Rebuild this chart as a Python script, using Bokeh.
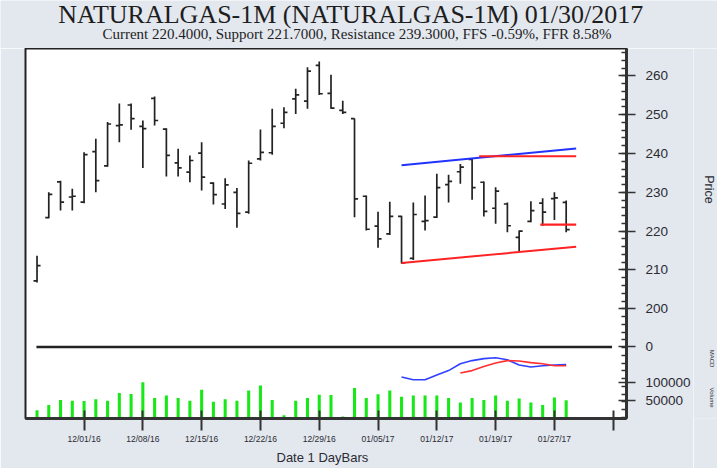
import math
from bokeh.plotting import figure
from bokeh.models import Range1d, FixedTicker, Label
from bokeh.layouts import column, row
from bokeh.embed import file_html
from bokeh.resources import INLINE

# ---------------- data ----------------
dates = ["11/25/16", "11/28/16", "11/29/16", "11/30/16", "12/01/16", "12/02/16",
         "12/05/16", "12/06/16", "12/07/16", "12/08/16", "12/09/16", "12/12/16",
         "12/13/16", "12/14/16", "12/15/16", "12/16/16", "12/19/16", "12/20/16",
         "12/21/16", "12/22/16", "12/23/16", "12/26/16", "12/27/16", "12/28/16",
         "12/29/16", "12/30/16", "01/02/17", "01/03/17", "01/04/17", "01/05/17",
         "01/06/17", "01/09/17", "01/10/17", "01/11/17", "01/12/17", "01/13/17",
         "01/16/17", "01/17/17", "01/18/17", "01/19/17", "01/20/17", "01/23/17",
         "01/24/17", "01/25/17", "01/27/17", "01/30/17"]

opens = [207.2, 223.5, 232.7, 228.8, 227.5, 240.5, 236.8, 247.2, 252.5, 247.0,
         254.2, 246.3, 237.6, 235.2, 240.1, 232.4, 227.0, 230.0, 224.9, 238.6,
         240.2, 247.8, 254.1, 253.5, 262.7, 255.5, 251.1, 249.0, 229.0, 221.3,
         219.3, 223.8, 213.0, 222.5, 223.6, 232.0, 235.3, 238.5, 232.6, 225.9,
         227.0, 218.4, 222.5, 227.2, 228.4, 227.4]
highs = [213.7, 230.0, 233.0, 230.9, 240.3, 243.8, 248.1, 252.9, 252.9, 248.5,
         254.7, 246.5, 241.2, 239.5, 242.9, 232.6, 233.6, 231.1, 238.2, 246.2,
         251.5, 251.9, 256.7, 262.2, 263.7, 260.3, 253.6, 249.0, 229.2, 225.0,
         227.6, 224.0, 227.4, 229.2, 234.8, 234.5, 237.3, 238.8, 232.8, 231.3,
         227.4, 220.2, 227.7, 228.5, 230.0, 227.9]
lows = [206.8, 223.3, 225.3, 225.3, 227.2, 230.0, 236.6, 242.9, 246.1, 236.3,
        247.2, 234.1, 234.1, 232.6, 230.5, 226.9, 225.7, 220.9, 224.5, 238.2,
        239.7, 246.5, 250.2, 251.5, 255.1, 251.5, 250.2, 223.6, 220.2, 215.7,
        219.0, 211.7, 212.6, 220.2, 223.4, 227.4, 232.2, 228.1, 223.8, 221.9,
        219.7, 214.6, 222.3, 221.4, 222.9, 219.7]
closes = [211.1, 229.5, 227.5, 229.0, 239.7, 233.0, 247.6, 247.4, 249.0, 246.4,
          248.5, 239.5, 236.3, 238.2, 233.9, 229.4, 231.9, 224.6, 237.5, 240.3,
          247.0, 250.6, 255.1, 261.2, 255.4, 251.7, 250.6, 228.3, 220.5, 218.0,
          223.8, 211.8, 224.3, 222.7, 231.2, 232.8, 236.5, 231.2, 225.1, 230.3,
          221.4, 220.0, 225.3, 224.9, 228.6, 220.4]
volumes = [21000, 36000, 50000, 48000, 47000, 52000, 48000, 70000, 67000, 100000,
           56000, 63000, 56000, 48000, 79000, 45000, 52000, 48000, 77000, 91000,
           50000, 7000, 48000, 56000, 65000, 64000, 4000, 84000, 56000, 66000,
           77000, 59000, 63000, 63000, 63000, 56000, 43000, 56000, 50000, 63000,
           48000, 54000, 43000, 36000, 57000, 49000]

macd_idx = list(range(31, 46))
macd_line = [-7.5, -8.2, -8.2, -7.0, -5.9, -4.2, -3.4, -2.9, -2.7, -3.2,
             -4.5, -5.0, -4.7, -4.5, -4.4]
signal_idx = list(range(36, 46))
macd_signal = [-6.5, -5.9, -4.9, -4.0, -3.4, -3.5, -3.9, -4.2, -4.7, -4.7]

upper_trend_x = [31, 45.85]
upper_trend_y = [237.0, 241.3]
lower_trend_x = [31, 45.85]
lower_trend_y = [211.8, 216.0]
resistance_x = [37.6, 45.85]
resistance_y = [239.3, 239.3]
support_x = [42.8, 45.85]
support_y = [221.7, 221.7]

price_ticks = [200, 210, 220, 230, 240, 250, 260]
macd_ticks = [0]
volume_ticks = [50000, 100000]
date_tick_idx = [4, 9, 14, 19, 24, 29, 34, 39, 44, 49]

title_text = "NATURALGAS-1M (NATURALGAS-1M)  01/30/2017"
subtitle_text = ("Current 220.4000, Support 221.7000, Resistance 239.3000, "
                 "FFS -0.59%, FFR 8.58%")
side_texts = ["Price", "MACD", "Volume"]

# ---------------- layout constants ----------------
P0, P1 = 171.75, 267.05
M0, M1 = -17.875, 74.625
V0, V1 = -1960.0, 1038000.0

BG = "#e3e7ee"
INK = "#2b2b33"
TOTAL_W = 717
TOP_H = 48
FRAME_L, FRAME_W, FRAME_H = 25, 601, 370
MAIN_W = 690
SIDE_W = TOTAL_W - MAIN_W
BOTTOM_H = 468 - TOP_H - FRAME_H


def strip(w, h, x_end, y_end, **kw):
    f = figure(frame_width=w, frame_height=h, x_range=Range1d(0, x_end),
               y_range=Range1d(0, y_end), x_axis_type=None, y_axis_type=None,
               output_backend="svg", toolbar_location=None, min_border=0,
               background_fill_color=BG, border_fill_color=BG,
               outline_line_color=None, **kw)
    f.title.visible = False
    f.grid.visible = False
    return f


# ---------------- title strip ----------------
top = strip(TOTAL_W, TOP_H, TOTAL_W, TOP_H)
top.add_layout(Label(x=353.5, y=TOP_H - 13.5, text=title_text,
                     text_font="Liberation Serif", text_font_size="26px",
                     text_color="#1e1e1e", text_align="center",
                     text_baseline="middle"))
top.add_layout(Label(x=356.5, y=TOP_H - 33.5, text=subtitle_text,
                     text_font="Liberation Serif", text_font_size="15px",
                     text_color="#1e1e1e", text_align="center",
                     text_baseline="middle"))

# ---------------- main chart ----------------
p = figure(frame_width=FRAME_W, frame_height=FRAME_H,
           x_range=Range1d(-0.98, 50.13), y_range=Range1d(P0, P1),
           y_axis_location="right", output_backend="svg", toolbar_location=None,
           min_border_left=FRAME_L, min_border_right=MAIN_W - FRAME_L - FRAME_W,
           min_border_top=0, min_border_bottom=BOTTOM_H,
           background_fill_color="white", border_fill_color=BG,
           outline_line_color="#222", outline_line_width=2)
p.title.visible = False
p.extra_y_ranges = {"macd": Range1d(M0, M1), "vol": Range1d(V0, V1)}
p.xgrid.visible = False
p.ygrid.visible = False

idx = list(range(len(opens)))
TW = 0.3

# volume
p.vbar(x=idx, top=volumes, bottom=0, width=0.26, y_range_name="vol",
       fill_color="#18e818", line_color=None)

# MACD
p.line(x=[-0.05, 48.9], y=[0, 0], y_range_name="macd", line_color="#222",
       line_width=2.5)
p.line(x=macd_idx, y=macd_line, y_range_name="macd", line_color="#3040ff",
       line_width=1.6)
p.line(x=signal_idx, y=macd_signal, y_range_name="macd", line_color="#ff3030",
       line_width=1.6)

# OHLC bars
p.segment(x0=idx, y0=lows, x1=idx, y1=highs, line_color="#222", line_width=1.7)
p.segment(x0=[i - TW for i in idx], y0=opens, x1=idx, y1=opens,
          line_color="#222", line_width=1.7)
p.segment(x0=idx, y0=closes, x1=[i + TW for i in idx], y1=closes,
          line_color="#222", line_width=1.7)

# trend / S-R lines
p.line(x=upper_trend_x, y=upper_trend_y, line_color="#2233ff", line_width=2)
p.line(x=resistance_x, y=resistance_y, line_color="#ff2222", line_width=2.2)
p.line(x=support_x, y=support_y, line_color="#ff2222", line_width=2.2)
p.line(x=lower_trend_x, y=lower_trend_y, line_color="#ff2222", line_width=2)


def to_price(v, r0, r1):
    return round(P0 + (v - r0) / (r1 - r0) * (P1 - P0), 4)


ticks = [float(t) for t in price_ticks]
labels = {float(t): str(t) for t in price_ticks}
for t in macd_ticks:
    pos = to_price(t, M0, M1)
    ticks.append(pos)
    labels[pos] = str(t)
for t in volume_ticks:
    pos = to_price(t, V0, V1)
    ticks.append(pos)
    labels[pos] = str(t)
minor = [172 + 2 * k for k in range(48)]

ya = p.yaxis[0]
ya.ticker = FixedTicker(ticks=ticks, minor_ticks=minor)
ya.major_label_overrides = labels
ya.axis_line_color = "#333"
ya.axis_line_width = 3
ya.major_tick_in = 8
ya.major_tick_out = 9
ya.minor_tick_in = 5
ya.minor_tick_out = 0
ya.major_tick_line_color = "#333"
ya.minor_tick_line_color = "#333"
ya.major_tick_line_width = 1.5
ya.minor_tick_line_width = 1.5
ya.major_label_text_font = "Liberation Sans"
ya.major_label_text_font_size = "13.5px"
ya.major_label_text_color = INK
ya.major_label_standoff = 10

xa = p.xaxis[0]
xa.ticker = FixedTicker(ticks=date_tick_idx, minor_ticks=[])
xa.major_label_overrides = {i: (dates[i] if i < len(dates) else "")
                            for i in date_tick_idx}
xa.axis_line_color = "#333"
xa.axis_line_width = 3
xa.major_tick_in = 8
xa.major_tick_out = 12
xa.major_tick_line_color = "#333"
xa.major_tick_line_width = 2
xa.minor_tick_line_color = None
xa.major_label_text_font = "Liberation Sans"
xa.major_label_text_font_size = "8.5px"
xa.major_label_text_color = INK
xa.major_label_standoff = 3
xa.axis_label = "Date  1  DayBars"
xa.axis_label_text_font = "Liberation Sans"
xa.axis_label_text_font_size = "13px"
xa.axis_label_text_font_style = "normal"
xa.axis_label_text_color = INK
xa.axis_label_standoff = 3

# ---------------- side strip (vertical captions) ----------------
side = strip(SIDE_W, FRAME_H, SIDE_W, FRAME_H, min_border_bottom=BOTTOM_H)
side.min_border_top = 0
for txt, cx, cy, fs in zip(side_texts, [705, 708, 708], [189, 358, 397],
                           ["12.5px", "6px", "6px"]):
    side.add_layout(Label(x=cx - MAIN_W, y=FRAME_H - (cy - TOP_H), text=txt,
                          text_font="Liberation Sans", text_font_size=fs,
                          text_color=INK, angle=-math.pi / 2,
                          text_align="center", text_baseline="middle"))

layout = column(top, row(p, side))
open("out.html", "w").write(file_html(layout, INLINE))
